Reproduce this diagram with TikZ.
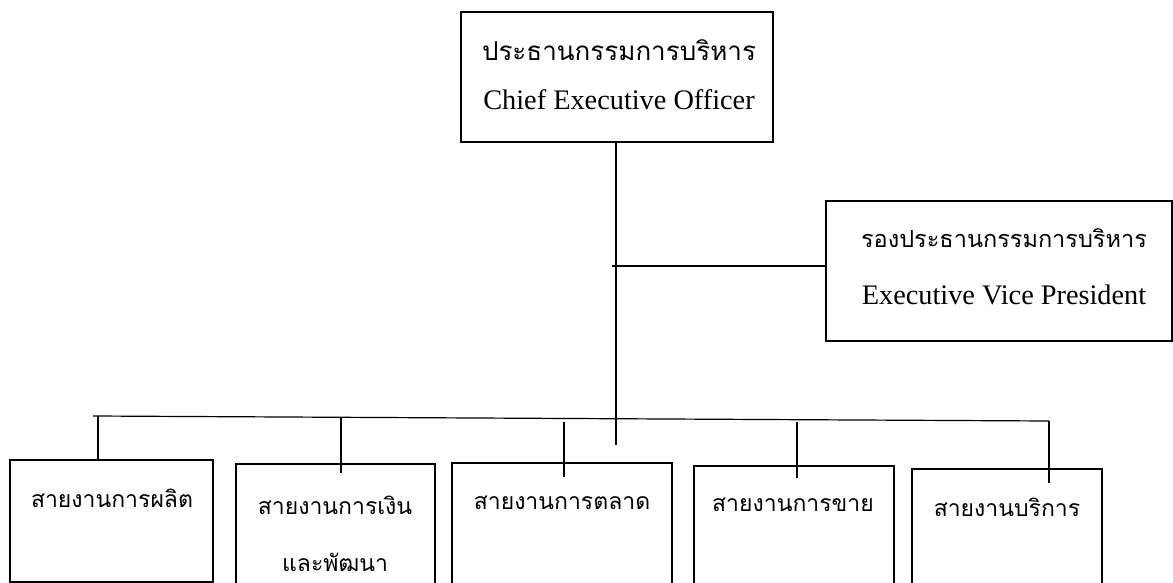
\documentclass[tikz,border=0pt]{standalone}
\usepackage{fontspec}
\setmainfont{Liberation Serif}
\newfontfamily\thai[Script=Thai]{Loma}
\tikzset{
  unit/.style={draw, line width=1.8pt, inner sep=0pt, outer sep=0pt, anchor=north west},
  eng/.style={font=\fontsize{28.3}{34}\selectfont, inner sep=0pt},
  th/.style={font=\thai\fontsize{23}{28}\selectfont, inner sep=0pt},
  link/.style={line width=1.2pt}
}
\begin{document}
\begin{tikzpicture}[x=1pt,y=-1pt]
\useasboundingbox (0,0) rectangle (1173,583);
\clip (0,0) rectangle (1173,583);

\node [unit, minimum width=312pt, minimum height=130pt] (ceo) at (461,12) {};
\node [th, font=\thai\fontsize{26}{30}\selectfont] (ceo-th) at (619,50) {ประธานกรรมการบริหาร};
\node [eng] (ceo-en) at (619,100) {Chief Executive Officer};

\node [unit, minimum width=346pt, minimum height=140pt] (vp) at (826,201) {};
\node [th, font=\thai\fontsize{23.5}{28}\selectfont] (vp-th) at (1004,238) {รองประธานกรรมการบริหาร};
\node [eng] (vp-en) at (1004,295) {Executive Vice President};

\node [unit, minimum width=203pt, minimum height=122pt] (prod) at (10,460) {};
\node [unit, minimum width=199pt, minimum height=140pt] (fin) at (236,464) {};
\node [unit, minimum width=220pt, minimum height=140pt] (mkt) at (452,463) {};
\node [unit, minimum width=200pt, minimum height=140pt] (sale) at (694,466) {};
\node [unit, minimum width=190pt, minimum height=140pt] (serv) at (912,469) {};

\node [th] (prod-t) at (112,498) {สายงานการผลิต};
\node [th] (fin-t) at (335,505) {สายงานการเงิน};
\node [th] (fin-t2) at (335,562) {และพัฒนา};
\node [th] (mkt-t) at (562,503) {สายงานการตลาด};
\node [th] (sale-t) at (793,505) {สายงานการขาย};
\node [th] (serv-t) at (1007,507) {สายงานบริการ};

\coordinate (trunk) at (616,445);
\coordinate (vpjoin) at (612,266);
\coordinate (busL) at (93,416);
\coordinate (busR) at (1049,421);

\draw [link] (ceo.south -| trunk) -- (trunk);
\draw [link] (vpjoin) -- (vpjoin -| vp.west);
\draw [link] (busL) -- (busR);

\foreach \n/\x/\ya/\yb in {1/98/416/460, 2/341/417/473, 3/564/422/477, 4/797/422/478, 5/1049/421/483}
{
   \coordinate (drop\n a) at (\x,\ya);
   \coordinate (drop\n b) at (\x,\yb);
   \draw [link] (drop\n a)--(drop\n b);
}

\end{tikzpicture}
\end{document}
